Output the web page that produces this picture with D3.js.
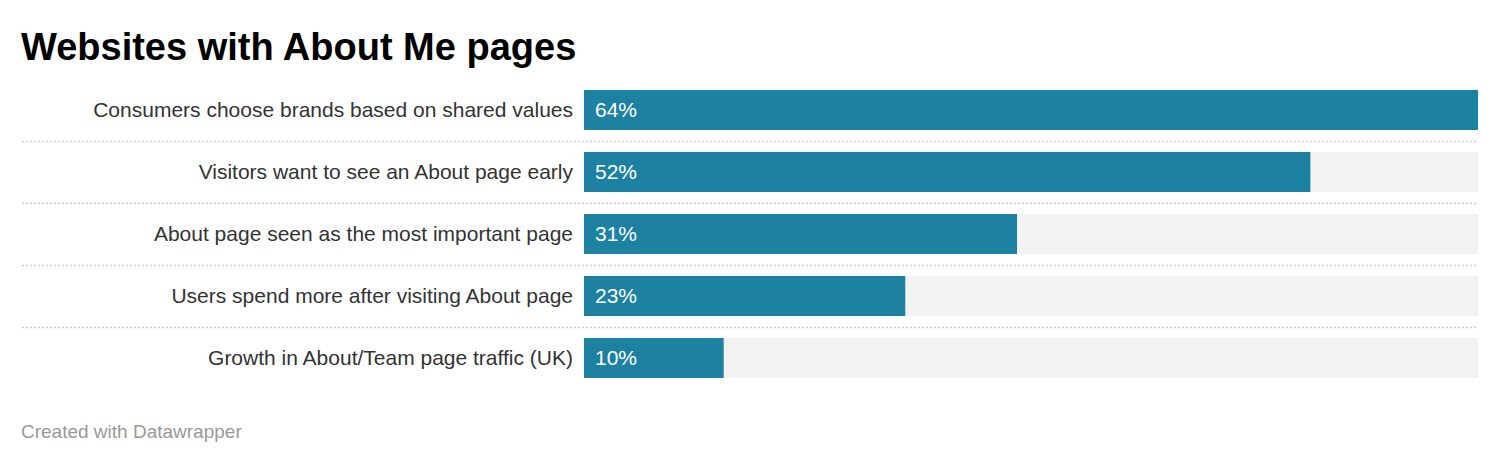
<!DOCTYPE html>
<html><head><meta charset="utf-8">
<script src="https://cdn.jsdelivr.net/npm/d3@7"></script>
<style>body{margin:0;background:#fff;font-family:"Liberation Sans",Arial,sans-serif}</style>
</head><body><svg id="c" width="1500" height="464"></svg>
<script>
const categories = ["Consumers choose brands based on shared values","Visitors want to see an About page early","About page seen as the most important page","Users spend more after visiting About page","Growth in About/Team page traffic (UK)"];
const values = [64,52,31,23,10];
const svg = d3.select("#c").style("font-family","'Liberation Sans',Arial,sans-serif");
svg.append("text").attr("x",21).attr("y",60).attr("font-size",38).attr("font-weight",700).attr("fill","#000").text("Websites with About Me pages");
const x = d3.scaleLinear().domain([0,64]).range([584,1478]);
const y = d3.scaleBand().domain(categories).range([90,378]).paddingInner(22/62).paddingOuter(0);
categories.forEach((c,i)=>{
  const yy=y(c), h=y.bandwidth();
  svg.append("rect").attr("x",x(0)).attr("y",yy).attr("width",x(64)-x(0)).attr("height",h).attr("fill","#f2f2f2");
  svg.append("rect").attr("x",x(0)).attr("y",yy).attr("width",x(values[i])-x(0)).attr("height",h).attr("fill","#1d81a2");
  svg.append("text").attr("x",573).attr("y",yy+27).attr("text-anchor","end").attr("font-size",21).attr("fill","#333").text(c);
  svg.append("text").attr("x",595).attr("y",yy+27).attr("font-size",21).attr("fill","#fff").text(values[i]+"%");
  if(i<categories.length-1){
    svg.append("line").attr("x1",22).attr("x2",1478).attr("y1",yy+h+11.5).attr("y2",yy+h+11.5).attr("stroke","#ccc").attr("stroke-width",1.5).attr("stroke-dasharray","2,2");
  }
});
svg.append("text").attr("x",21).attr("y",438).attr("font-size",19).attr("fill","#999").text("Created with Datawrapper");
</script></body></html>
